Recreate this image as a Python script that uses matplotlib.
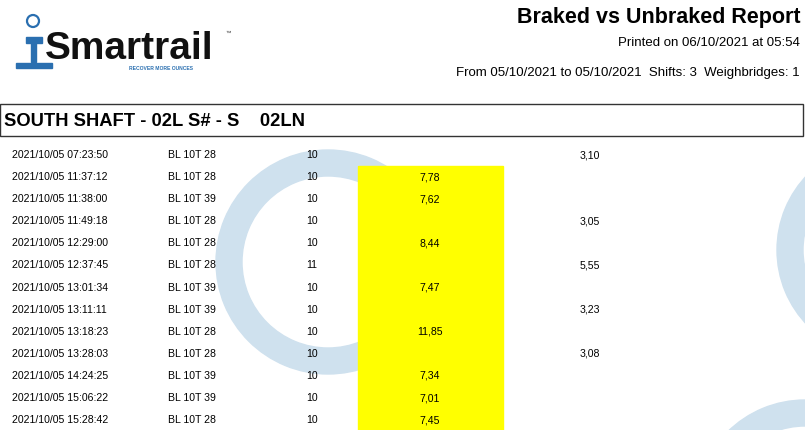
import matplotlib
matplotlib.use("Agg")
import matplotlib.pyplot as plt
from matplotlib.patches import Wedge, Rectangle, Circle

times = ["2021/10/05 07:23:50","2021/10/05 11:37:12","2021/10/05 11:38:00","2021/10/05 11:49:18",
         "2021/10/05 12:29:00","2021/10/05 12:37:45","2021/10/05 13:01:34","2021/10/05 13:11:11",
         "2021/10/05 13:18:23","2021/10/05 13:28:03","2021/10/05 14:24:25","2021/10/05 15:06:22",
         "2021/10/05 15:28:42"]
units = ["BL 10T 28","BL 10T 28","BL 10T 39","BL 10T 28","BL 10T 28","BL 10T 28","BL 10T 39",
         "BL 10T 39","BL 10T 28","BL 10T 28","BL 10T 39","BL 10T 39","BL 10T 28"]
tons = ["10","10","10","10","10","11","10","10","10","10","10","10","10"]
braked = ["","7,78","7,62","","8,44","","7,47","","11,85","","7,34","7,01","7,45"]
unbraked = ["3,10","","","3,05","","5,55","","3,23","","3,08","","",""]

fig = plt.figure(figsize=(8.05, 4.30), dpi=100)
ax = fig.add_axes([0, 0, 1, 1])
ax.set_xlim(0, 805); ax.set_ylim(430, 0); ax.axis("off")
fn = "Liberation Sans"
wm = "#cfe1ee"
for cx, cy, r in [(328, 262, 112), (885, 250, 108), (805, 510, 110)]:
    ax.add_patch(Wedge((cx, cy), r, 0, 360, width=26, color=wm, zorder=0))

# logo
ax.add_patch(Circle((33, 21), 6, fill=False, ec="#2a6fb0", lw=1.6))
ax.add_patch(Rectangle((26, 37), 16, 6, color="#2a6fb0"))
ax.add_patch(Rectangle((31, 42), 5, 20, color="#2a6fb0"))
ax.add_patch(Rectangle((16, 63), 36, 5, color="#2a6fb0"))
ax.text(45, 49, "Smartrail", fontsize=28, family=fn, color="#111111", va="center", fontweight="bold")
ax.text(225, 35, "™", fontsize=4, family=fn, color="#333")
ax.text(129, 68, "RECOVER MORE OUNCES", fontsize=3.6, family=fn, color="#2a6fb0", va="center", fontweight="bold")

ax.text(800, 17, "Braked vs Unbraked Report", fontsize=15.5, fontweight="bold", family=fn, ha="right", va="center")
ax.text(800, 43, "Printed on 06/10/2021 at 05:54", fontsize=9.5, family=fn, ha="right", va="center")
ax.text(800, 73, "From 05/10/2021 to 05/10/2021  Shifts: 3  Weighbridges: 1", fontsize=9.5, family=fn, ha="right", va="center")

ax.add_patch(Rectangle((0, 104), 803, 32, fill=False, ec="#333333", lw=1.0))
ax.text(4, 121, "SOUTH SHAFT - 02L S# - S    02LN", fontsize=13.2, fontweight="bold", family=fn, va="center")

y0, dy = 155, 22.1
ax.add_patch(Rectangle((358, y0 + dy * 0.5), 145, 430 - (y0 + dy * 0.5), color="#ffff00", zorder=1))
fs = 7.6
for i in range(len(times)):
    y = y0 + i * dy
    ax.text(12, y, times[i], fontsize=fs, family=fn, va="center", zorder=2)
    ax.text(168, y, units[i], fontsize=fs, family=fn, va="center", zorder=2)
    ax.text(312, y, tons[i], fontsize=fs, family=fn, va="center", ha="center", zorder=2)
    ax.text(430, y, braked[i], fontsize=fs, family=fn, va="center", ha="center", zorder=2)
    ax.text(590, y, unbraked[i], fontsize=fs, family=fn, va="center", ha="center", zorder=2)

fig.savefig("out.png", dpi=100)
